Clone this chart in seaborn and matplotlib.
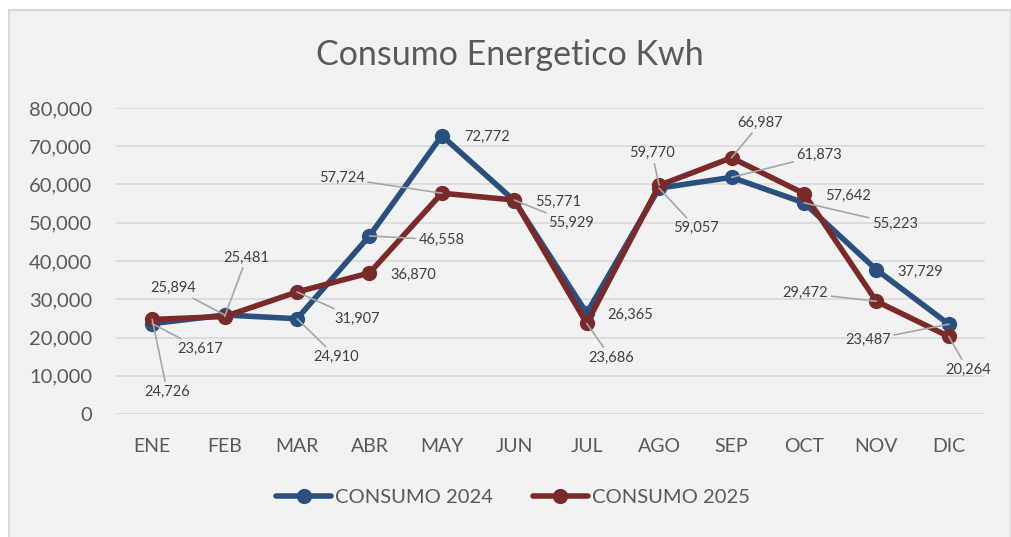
import matplotlib
matplotlib.use("Agg")
import matplotlib.pyplot as plt
import seaborn as sns
import pandas as pd
from matplotlib.patches import Rectangle
from matplotlib.ticker import FuncFormatter

meses = ["ENE", "FEB", "MAR", "ABR", "MAY", "JUN", "JUL", "AGO", "SEP", "OCT", "NOV", "DIC"]
consumo_2024 = [23617, 25894, 24910, 46558, 72772, 55771, 26365, 59057, 61873, 55223, 37729, 23487]
consumo_2025 = [24726, 25481, 31907, 36870, 57724, 55929, 23686, 59770, 66987, 57642, 29472, 20264]
series_names = ["CONSUMO 2024", "CONSUMO 2025"]
title = "Consumo Energetico Kwh"

# label offsets in pixels (dx, dy) and whether a leader line is drawn
off_2024 = [(48, -25, 1), (-51, 27, 1), (39, -38, 1), (72, -4, 1), (45, -1, 0), (44, -1, 0),
            (44, -2, 0), (37, -40, 1), (88, 22, 1), (91, -21, 1), (44, -2, 0), (-81, -16, 1)]
off_2025 = [(15, -72, 1), (22, 59, 1), (60, -27, 1), (44, -2, 0), (-100, 15, 1), (57, -23, 1),
            (24, -34, 1), (-7, 32, 1), (29, 35, 1), (44, -2, 0), (-71, 8, 1), (19, -33, 1)]

colors = ["#2A5080", "#7B2A2A"]
txt = "#595959"
bg = "#F2F2F2"

sns.set_theme(style="white")
plt.rcParams["font.family"] = ["Lato", "DejaVu Sans"]

df = pd.DataFrame({
    "mes": meses * 2,
    "x": list(range(len(meses))) * 2,
    "valor": consumo_2024 + consumo_2025,
    "serie": [series_names[0]] * len(meses) + [series_names[1]] * len(meses),
})

fig = plt.figure(figsize=(10.12, 5.37), dpi=100)
fig.patch.set_facecolor("white")
fig.patches.append(Rectangle((9 / 1012, -0.01), 1002 / 1012, (537 - 10) / 537 + 0.01, transform=fig.transFigure,
                             facecolor=bg, edgecolor="#D9D9D9", lw=1.5, zorder=-5))

ax = fig.add_axes([116 / 1012, (537 - 414) / 537, (985 - 116) / 1012, (414 - 108) / 537])
ax.patch.set_alpha(0)

sns.lineplot(data=df, x="x", y="valor", hue="serie", palette=colors, marker="o",
             markersize=11, linewidth=4, markeredgewidth=0, ax=ax, legend=True, sort=False, zorder=3)

ax.set_xlim(-0.5, len(meses) - 0.5)
ax.set_ylim(0, 80000)
ax.set_yticks(range(0, 80001, 10000))
ax.yaxis.set_major_formatter(FuncFormatter(lambda v, p: f"{int(v):,}"))
ax.set_xticks(range(len(meses)))
ax.set_xticklabels(meses)
ax.grid(axis="y", color="#D9D9D9", lw=1.2)
ax.set_axisbelow(True)
for s in ax.spines.values():
    s.set_visible(False)
ax.tick_params(axis="both", length=0, labelsize=14, colors=txt)
ax.tick_params(axis="y", pad=17, labelsize=14.5)
ax.tick_params(axis="x", pad=17)
ax.set_xlabel("")
ax.set_ylabel("")

for vals, offs in [(consumo_2024, off_2024), (consumo_2025, off_2025)]:
    for i, (v, (dx, dy, lead)) in enumerate(zip(vals, offs)):
        kw = {}
        if lead:
            kw["arrowprops"] = dict(arrowstyle="-", color="#A6A6A6", lw=1.2, shrinkA=0, shrinkB=0)
        ax.annotate(f"{v:,}", xy=(i, v), xytext=(dx, dy), textcoords="offset pixels",
                    ha="center", va="center", fontsize=10.5, color="#404040", zorder=5, **kw)

fig.text(510 / 1012, 1 - 55 / 537, title, ha="center", va="center", fontsize=24.5, color=txt)

handles, labels = ax.get_legend_handles_labels()
ax.legend(handles, labels, loc="center", bbox_to_anchor=(513 / 1012, 1 - 497 / 537),
          bbox_transform=fig.transFigure, ncol=2, frameon=False, fontsize=14.5,
          labelcolor=txt, handlelength=2.7, handletextpad=0.2, columnspacing=2.0, markerscale=1.0)

fig.savefig("out.png", dpi=100, facecolor="white")
